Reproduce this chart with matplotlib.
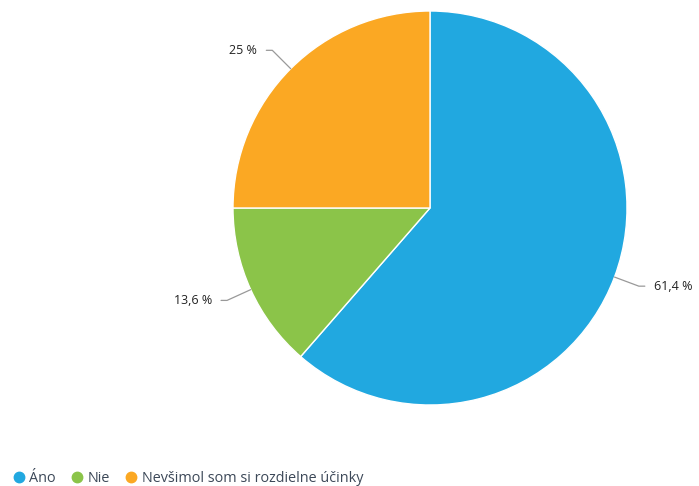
import matplotlib.pyplot as plt
import numpy as np
from matplotlib.lines import Line2D

# Data
labels = ['Áno', 'Nie', 'Nevšimol som si rozdielne účinky']
values = [61.4, 13.6, 25.0]
value_labels = ['61,4 %', '13,6 %', '25 %']
colors = ['#21a8e0', '#8bc449', '#fba823']

plt.rcParams['font.family'] = ['Open Sans', 'DejaVu Sans']

fig = plt.figure(figsize=(6.99, 4.86), dpi=100)
ax = fig.add_axes([0, 0, 1, 1])

cx, cy, r = 430, 278, 197
wedges, _ = ax.pie(values, colors=colors, startangle=90, counterclock=False,
                   center=(cx, cy), radius=r,
                   wedgeprops=dict(edgecolor='white', linewidth=1))

# leader lines + labels
for w, txt in zip(wedges, value_labels):
    mid = np.deg2rad((w.theta1 + w.theta2) / 2)
    ex, ey = cx + r * np.cos(mid), cy + r * np.sin(mid)
    bx, by = cx + (r + 26) * np.cos(mid), cy + (r + 26) * np.sin(mid)
    side = 1 if np.cos(mid) >= 0 else -1
    hx = bx + side * 6
    ax.plot([ex, bx, hx], [ey, by, by], color='#999999', lw=0.9,
            solid_capstyle='round', solid_joinstyle='round')
    ax.text(hx + side * 9, by, txt, ha='left' if side > 0 else 'right',
            va='center', fontsize=9, color='#222222')

ax.set_xlim(0, 699)
ax.set_ylim(0, 486)
ax.set_aspect('equal')
ax.axis('off')

handles = [Line2D([], [], marker='o', linestyle='', markersize=7.5,
                  markerfacecolor=c, markeredgecolor=c) for c in colors]
fig.legend(handles, labels, loc='lower left', bbox_to_anchor=(-0.004, -0.027),
           ncol=3, frameon=False, fontsize=10.4, handletextpad=0.1,
           columnspacing=0.9, handlelength=1.2, labelcolor='#3c4858')

fig.savefig('out.png', dpi=100)
